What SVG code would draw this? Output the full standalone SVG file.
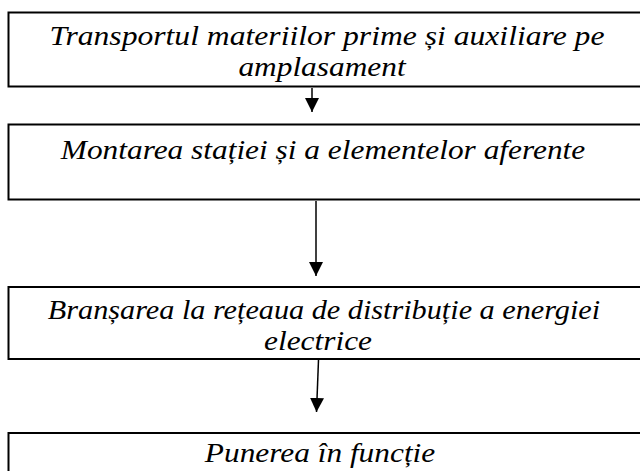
<svg xmlns="http://www.w3.org/2000/svg" width="640" height="471" viewBox="0 0 640 471">
<defs>
<marker id="ah" markerWidth="14" markerHeight="14" refX="14" refY="7" orient="auto" markerUnits="userSpaceOnUse">
<path d="M0,0 L14,7 L0,14 Z" fill="#000"/>
</marker>
<style>
.box{fill:#fff;stroke:#000;stroke-width:2}
.c{stroke:#000;stroke-width:1.5;fill:none}
</style>
</defs>
<rect width="640" height="471" fill="#fff"/>
<g font-family="Liberation Serif, serif" font-style="italic" font-size="28" text-anchor="middle" fill="#000">
<g id="n1">
<rect class="box" x="8.5" y="12.5" width="640" height="74"/>
<text transform="translate(327,45) scale(1.13,1)">Transportul materiilor prime și auxiliare pe</text>
<text transform="translate(322,76) scale(1.12,1)">amplasament</text>
</g>
<g id="n2">
<rect class="box" x="8.5" y="124.5" width="640" height="75"/>
<text transform="translate(323,159) scale(1.12,1)">Montarea stației și a elementelor aferente</text>
</g>
<g id="n3">
<rect class="box" x="8.5" y="287" width="640" height="72"/>
<text transform="translate(324,319) scale(1.08,1)">Branșarea la rețeaua de distribuție a energiei</text>
<text transform="translate(318,350) scale(1.12,1)">electrice</text>
</g>
<g id="n4">
<rect class="box" x="8.5" y="433" width="640" height="60"/>
<text transform="translate(320,462) scale(1.12,1)">Punerea în funcție</text>
</g>
</g>
<g id="connectors">
<line class="c" x1="312" y1="88" x2="312" y2="112" marker-end="url(#ah)"/>
<line class="c" x1="316" y1="201" x2="316" y2="276" marker-end="url(#ah)"/>
<line class="c" x1="318.5" y1="360" x2="316.5" y2="412" marker-end="url(#ah)"/>
</g>
</svg>
